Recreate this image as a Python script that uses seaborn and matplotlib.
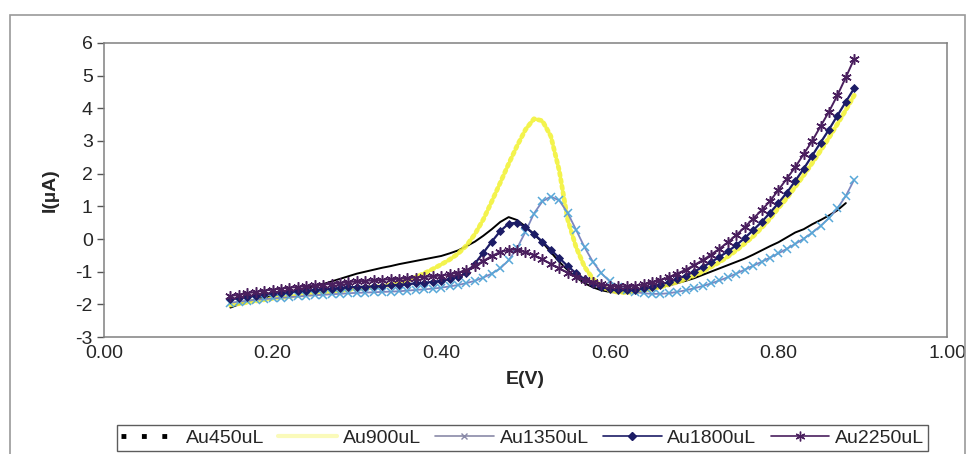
import matplotlib
matplotlib.use("Agg")
import matplotlib.pyplot as plt
import matplotlib.patches as mpatches
from matplotlib.lines import Line2D
import numpy as np
import pandas as pd
import seaborn as sns

# Potential sweep (V)
E_V = [0.15, 0.16, 0.17, 0.18, 0.19, 0.20, 0.21, 0.22, 0.23, 0.24,
       0.25, 0.26, 0.27, 0.28, 0.29, 0.30, 0.31, 0.32, 0.33, 0.34,
       0.35, 0.36, 0.37, 0.38, 0.39, 0.40, 0.41, 0.42, 0.43, 0.44,
       0.45, 0.46, 0.47, 0.48, 0.49, 0.50, 0.51, 0.52, 0.53, 0.54,
       0.55, 0.56, 0.57, 0.58, 0.59, 0.60, 0.61, 0.62, 0.63, 0.64,
       0.65, 0.66, 0.67, 0.68, 0.69, 0.70, 0.71, 0.72, 0.73, 0.74,
       0.75, 0.76, 0.77, 0.78, 0.79, 0.80, 0.81, 0.82, 0.83, 0.84,
       0.85, 0.86, 0.87, 0.88, 0.89]

# Current (uA) for each gold volume
au450 = [-2.10, -2.00, -1.92, -1.85, -1.79, -1.74, -1.68, -1.62, -1.56, -1.50,
         -1.44, -1.38, -1.30, -1.22, -1.14, -1.06, -1.00, -0.94, -0.88, -0.83,
         -0.77, -0.72, -0.67, -0.62, -0.57, -0.52, -0.44, -0.35, -0.22, -0.08,
         0.10, 0.30, 0.52, 0.67, 0.58, 0.38, 0.15, -0.10, -0.40, -0.70,
         -0.95, -1.18, -1.35, -1.48, -1.57, -1.62, -1.64, -1.64, -1.62, -1.58,
         -1.53, -1.48, -1.42, -1.35, -1.28, -1.20, -1.10, -1.00, -0.90, -0.80,
         -0.70, -0.60, -0.48, -0.35, -0.22, -0.10, 0.05, 0.20, 0.30, 0.45,
         0.58, 0.72, 0.88, 1.10]

au900 = [-2.02, -1.98, -1.94, -1.90, -1.86, -1.82, -1.79, -1.76, -1.73, -1.70,
         -1.67, -1.64, -1.61, -1.58, -1.55, -1.52, -1.50, -1.47, -1.44, -1.40,
         -1.35, -1.27, -1.17, -1.05, -0.92, -0.78, -0.63, -0.45, -0.20, 0.15,
         0.60, 1.15, 1.72, 2.30, 2.85, 3.35, 3.68, 3.62, 3.15, 2.10,
         0.60, -0.25, -0.85, -1.22, -1.45, -1.58, -1.63, -1.64, -1.62, -1.58,
         -1.53, -1.47, -1.40, -1.32, -1.23, -1.12, -1.00, -0.86, -0.71, -0.54,
         -0.35, -0.14, 0.08, 0.34, 0.62, 0.95, 1.25, 1.60, 1.95, 2.32,
         2.70, 3.10, 3.52, 3.95, 4.40]

au1350 = [-1.95, -1.92, -1.89, -1.86, -1.84, -1.82, -1.80, -1.78, -1.76, -1.74,
          -1.72, -1.71, -1.69, -1.68, -1.66, -1.65, -1.64, -1.63, -1.62, -1.61,
          -1.60, -1.58, -1.56, -1.54, -1.52, -1.49, -1.45, -1.41, -1.35, -1.28,
          -1.18, -1.06, -0.90, -0.65, -0.28, 0.22, 0.78, 1.15, 1.30, 1.18,
          0.80, 0.28, -0.25, -0.70, -1.05, -1.30, -1.46, -1.56, -1.62, -1.66,
          -1.68, -1.68, -1.66, -1.62, -1.57, -1.51, -1.44, -1.36, -1.27, -1.17,
          -1.06, -0.94, -0.82, -0.70, -0.57, -0.44, -0.30, -0.15, 0.01, 0.19,
          0.40, 0.64, 0.94, 1.32, 1.82]

au1800 = [-1.85, -1.81, -1.77, -1.73, -1.69, -1.66, -1.64, -1.62, -1.60, -1.58,
          -1.56, -1.54, -1.52, -1.50, -1.48, -1.47, -1.46, -1.45, -1.44, -1.42,
          -1.40, -1.38, -1.36, -1.34, -1.31, -1.28, -1.23, -1.16, -1.04, -0.75,
          -0.42, -0.08, 0.24, 0.47, 0.50, 0.36, 0.15, -0.08, -0.33, -0.58,
          -0.83, -1.05, -1.23, -1.37, -1.47, -1.54, -1.57, -1.57, -1.55, -1.51,
          -1.46, -1.40, -1.32, -1.23, -1.12, -1.00, -0.86, -0.71, -0.55, -0.38,
          -0.19, 0.03, 0.27, 0.52, 0.80, 1.10, 1.42, 1.78, 2.15, 2.55,
          2.95, 3.35, 3.78, 4.20, 4.62]

au2250 = [-1.75, -1.70, -1.66, -1.62, -1.58, -1.55, -1.52, -1.49, -1.47, -1.44,
          -1.42, -1.40, -1.37, -1.35, -1.32, -1.30, -1.28, -1.27, -1.25, -1.23,
          -1.22, -1.20, -1.18, -1.16, -1.14, -1.12, -1.08, -1.03, -0.95, -0.82,
          -0.67, -0.52, -0.40, -0.33, -0.33, -0.40, -0.50, -0.62, -0.76, -0.90,
          -1.03, -1.15, -1.25, -1.33, -1.39, -1.43, -1.45, -1.45, -1.43, -1.39,
          -1.33, -1.26, -1.17, -1.06, -0.94, -0.80, -0.65, -0.48, -0.30, -0.10,
          0.12, 0.36, 0.62, 0.88, 1.16, 1.50, 1.85, 2.20, 2.60, 3.00,
          3.45, 3.90, 4.40, 4.95, 5.52]

series_names = ["Au450uL", "Au900uL", "Au1350uL", "Au1800uL", "Au2250uL"]
x_ticks = [0.0, 0.2, 0.4, 0.6, 0.8, 1.0]
y_ticks = [-3, -2, -1, 0, 1, 2, 3, 4, 5, 6]

sns.set_theme(style="white")
plt.rcParams["font.family"] = ["Liberation Sans", "DejaVu Sans"]

fig = plt.figure(figsize=(9.7, 4.54), dpi=100)
fig.patch.set_facecolor("white")

# outer chart border
fig.patches.append(mpatches.Rectangle((10 / 970, -0.05), 955 / 970, 1.05 - 15 / 454,
                                      transform=fig.transFigure, fill=False,
                                      edgecolor="#9a9a9a", linewidth=1.2, zorder=0))

ax = fig.add_axes([0.1072, 0.2577, 0.8691, 0.6476])

styles = {
    "Au450uL": dict(color="black", linewidth=1.4, linestyle="-", marker=None),
    "Au900uL": dict(color="#f2f23a", linewidth=3.4, linestyle=(0, (0.6, 0.8)),
                    dash_capstyle="round", marker=None, alpha=0.9),
    "Au1350uL": dict(color="#7d86bf", linewidth=1.3, linestyle="-", marker="x",
                     markersize=5.5, markeredgewidth=1.1, markeredgecolor="#57a8d8"),
    "Au1800uL": dict(color="#1c1c66", linewidth=1.6, linestyle="-", marker="D",
                     markersize=4.2, markeredgewidth=0.6, markerfacecolor="#1c1c66",
                     markeredgecolor="#1c1c66"),
    "Au2250uL": dict(color="#4a1f5e", linewidth=1.4, linestyle="-", marker=(6, 2, 0),
                     markersize=7.5, markeredgewidth=1.1, markeredgecolor="#4a1f5e"),
}

values = {"Au450uL": au450, "Au900uL": au900, "Au1350uL": au1350,
          "Au1800uL": au1800, "Au2250uL": au2250}

for i, name in enumerate(series_names):
    ys = values[name]
    df = pd.DataFrame({"E": E_V[:len(ys)], "I": ys})
    sns.lineplot(data=df, x="E", y="I", ax=ax, sort=False, legend=False,
                 zorder=3 + i, **styles[name])

ax.set_xlim(0, 1)
ax.set_ylim(-3, 6)
ax.set_xticks(x_ticks)
ax.set_xticklabels([f"{t:.2f}" for t in x_ticks])
ax.set_yticks(y_ticks)
ax.set_yticklabels([str(t) for t in y_ticks])
ax.tick_params(axis="y", which="major", direction="out", length=5, width=1,
               color="#555555", labelsize=14, pad=3, left=True)
ax.tick_params(axis="x", which="major", length=0, labelsize=14, pad=6)
for s in ax.spines.values():
    s.set_color("#808080")
    s.set_linewidth(1.1)

ax.set_xlabel("E(V)", fontsize=14, fontweight="bold", labelpad=6)
ax.set_ylabel("I(µA)", fontsize=14, fontweight="bold", labelpad=12)

# legend
handles = [
    Line2D([], [], color="black", linewidth=3.5, linestyle=(0, (1.0, 3.2))),
    Line2D([], [], color="#f2f23a", linewidth=3.0, alpha=0.35),
    Line2D([], [], color="#8a8aa8", linewidth=1.2, marker="x", markersize=5,
           markeredgecolor="#8a8aa8"),
    Line2D([], [], color="#1c1c66", linewidth=1.2, marker="D", markersize=4),
    Line2D([], [], color="#4a1f5e", linewidth=1.2, marker=(6, 2, 0), markersize=7),
]
leg = fig.legend(handles, series_names, loc="center", bbox_to_anchor=(0.539, 0.035),
                 ncol=5, frameon=True, fancybox=False, fontsize=14,
                 handlelength=3.0, handletextpad=0.3, columnspacing=0.75,
                 borderpad=0.2, borderaxespad=0.0)
leg.get_frame().set_edgecolor("#333333")
leg.get_frame().set_linewidth(1.0)

fig.savefig("out.png", dpi=100, facecolor="white")
